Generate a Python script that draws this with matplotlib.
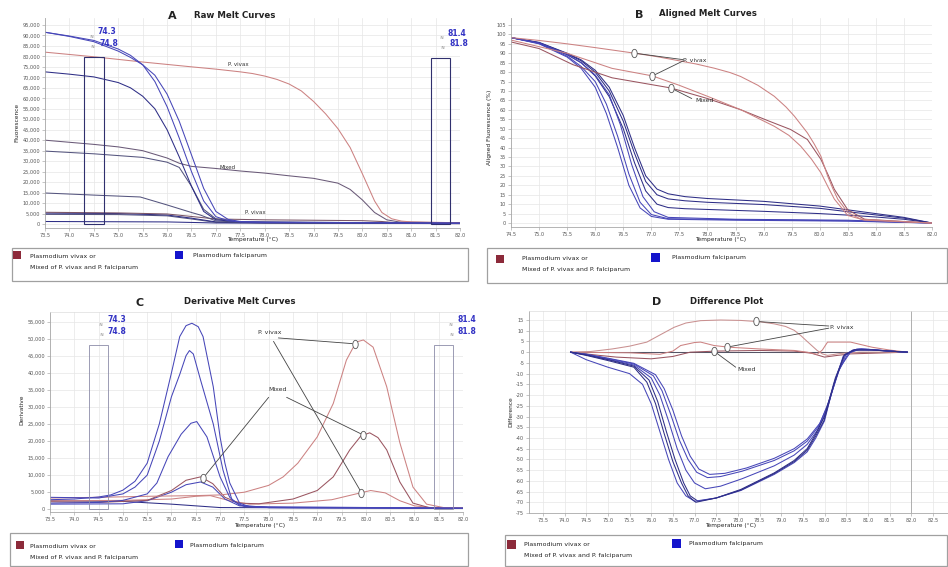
import numpy as np
import matplotlib
matplotlib.use('Agg')
import matplotlib.pyplot as plt
from matplotlib.patches import Rectangle
from matplotlib.markers import MarkerStyle
from matplotlib.transforms import Affine2D
from matplotlib.ticker import FuncFormatter, MultipleLocator

# ---------------- DATA ----------------
# Panel A: raw melt curves (temperature, fluorescence in thousands)
a_pf1 = [(73.5, 91.5), (74.0, 89.7), (74.5, 87.6), (75.0, 83.5), (75.25, 80.5), (75.5, 76.0), (75.75, 68.0),
         (76.0, 56.0), (76.25, 41.0), (76.5, 25.0), (76.75, 11.0), (77.0, 3.5), (77.25, 1.6), (77.5, 1.0), (78.0, 0.8), (82.0, 0.4)]
a_pf2 = [(73.5, 91.5), (74.0, 89.5), (74.5, 87.0), (75.0, 82.5), (75.25, 79.5), (75.5, 76.0), (75.75, 71.0),
         (76.0, 62.0), (76.25, 49.0), (76.5, 33.0), (76.75, 17.0), (77.0, 6.0), (77.25, 2.2), (77.5, 1.2), (78.0, 0.8), (82.0, 0.4)]
a_pf3 = [(73.5, 72.6), (74.0, 71.5), (74.5, 70.2), (75.0, 67.5), (75.25, 65.0), (75.5, 61.0), (75.75, 55.0),
         (76.0, 45.0), (76.25, 32.0), (76.5, 18.0), (76.75, 6.0), (77.0, 2.0), (77.5, 1.0), (82.0, 0.4)]
a_pf4 = [(73.5, 34.8), (74.5, 33.5), (75.5, 31.8), (76.0, 29.5), (76.25, 27.0), (76.5, 18.0), (76.75, 7.0),
         (77.0, 2.5), (77.5, 1.0), (82.0, 0.4)]
a_pf5 = [(73.5, 14.8), (74.5, 13.8), (75.45, 12.9), (76.0, 9.1), (76.5, 5.5), (76.68, 4.3), (77.0, 1.5), (77.5, 0.8), (82.0, 0.3)]
a_pf6 = [(73.5, 5.2), (75.0, 5.0), (76.0, 4.3), (76.5, 2.8), (77.0, 1.0), (78.0, 0.6), (82.0, 0.3)]
a_pf7 = [(73.5, 4.6), (75.0, 4.5), (76.0, 3.9), (76.5, 2.4), (77.0, 0.8), (78.0, 0.5), (82.0, 0.3)]
a_base = [(73.5, 1.2), (76.0, 1.0), (77.0, 0.5), (82.0, 0.2)]
a_pv1 = [(73.5, 82.0), (74.5, 79.8), (75.5, 77.3), (76.5, 75.0), (77.0, 73.9), (77.5, 72.6), (77.75, 71.8), (78.0, 70.6),
         (78.25, 69.0), (78.5, 66.8), (78.75, 63.5), (79.0, 58.5), (79.25, 52.5), (79.5, 45.5), (79.75, 36.5),
         (80.0, 24.0), (80.25, 11.0), (80.4, 5.5), (80.6, 2.5), (80.8, 1.4), (81.0, 1.0), (82.0, 0.6)]
a_pv2 = [(73.5, 5.6), (75.0, 5.3), (76.0, 4.8), (76.5, 3.6), (77.0, 2.4), (78.0, 2.0), (79.0, 1.8), (80.0, 1.6),
         (80.4, 1.2), (80.7, 0.6), (81.0, 0.3), (82.0, 0.2)]
a_mix = [(73.5, 40.0), (74.5, 38.0), (75.0, 36.8), (75.5, 35.0), (76.0, 31.5), (76.25, 29.0), (76.5, 27.5), (77.0, 26.5),
         (77.5, 25.3), (78.0, 24.3), (78.5, 23.0), (79.0, 21.8), (79.5, 19.5), (79.75, 16.5), (80.0, 11.5), (80.25, 5.5),
         (80.5, 2.0), (80.75, 1.0), (82.0, 0.5)]

# Panel B: aligned melt curves (temperature, %)
b_pf1 = [(74.5, 98.3), (75.0, 95.0), (75.5, 88.0), (75.75, 82.0), (76.0, 72.0), (76.2, 58.0), (76.4, 40.0), (76.6, 20.0),
         (76.8, 8.0), (77.0, 3.5), (77.3, 2.0), (78.5, 1.5), (80.5, 1.0), (82.0, 0.0)]
b_pf2 = [(74.5, 98.3), (75.0, 95.2), (75.5, 88.5), (75.75, 83.0), (76.0, 75.0), (76.2, 63.0), (76.4, 46.0), (76.6, 26.0),
         (76.8, 11.0), (77.0, 4.5), (77.3, 2.3), (78.5, 1.8), (80.5, 1.2), (82.0, 0.0)]
b_pf3 = [(74.5, 98.3), (75.0, 95.5), (75.5, 89.5), (75.75, 85.0), (76.0, 78.5), (76.25, 68.0), (76.45, 52.0), (76.65, 31.0),
         (76.85, 14.0), (77.05, 6.0), (77.3, 3.0), (78.5, 2.0), (80.5, 1.5), (82.0, 0.0)]
b_pf4 = [(74.5, 98.3), (75.0, 95.8), (75.5, 90.0), (75.75, 86.5), (76.0, 81.0), (76.25, 72.0), (76.5, 57.0), (76.7, 40.0),
         (76.9, 25.0), (77.1, 18.0), (77.3, 15.5), (77.6, 14.0), (78.0, 13.0), (79.0, 11.5), (80.0, 9.0), (80.5, 7.0),
         (81.0, 5.0), (81.5, 3.0), (82.0, 0.0)]
b_pf5 = [(74.5, 98.3), (75.0, 95.6), (75.5, 89.8), (75.75, 86.0), (76.0, 80.0), (76.25, 70.0), (76.5, 54.0), (76.7, 37.0),
         (76.9, 22.0), (77.1, 15.0), (77.3, 12.8), (77.6, 11.8), (78.0, 11.0), (79.0, 9.8), (80.0, 7.8), (80.5, 6.0),
         (81.0, 4.3), (81.5, 2.6), (82.0, 0.0)]
b_pf6 = [(74.5, 98.3), (75.0, 95.4), (75.5, 89.2), (75.75, 85.0), (76.0, 78.0), (76.25, 67.0), (76.5, 50.0), (76.7, 32.0),
         (76.9, 17.0), (77.1, 10.0), (77.3, 8.2), (77.6, 7.6), (78.0, 7.2), (79.0, 6.2), (80.0, 5.0), (80.5, 4.2),
         (81.0, 3.2), (81.5, 2.0), (82.0, 0.0)]
b_pv1 = [(74.5, 98.3), (75.0, 96.8), (75.5, 95.0), (76.0, 93.0), (76.69, 90.1), (77.1, 88.2), (77.5, 86.0), (77.8, 84.3),
         (78.12, 82.1), (78.4, 79.8), (78.59, 77.7), (78.9, 73.0), (79.19, 67.2), (79.4, 61.5), (79.55, 56.6),
         (79.78, 47.8), (79.9, 42.0), (80.02, 35.5), (80.14, 25.0), (80.23, 18.5), (80.32, 12.7), (80.5, 5.6),
         (80.73, 2.1), (81.2, 1.2), (82.0, 0.0)]
b_pv2 = [(74.5, 97.0), (75.0, 93.5), (75.5, 90.0), (76.3, 82.0), (77.02, 78.0), (77.5, 73.0), (78.0, 67.2), (78.6, 60.0),
         (79.19, 51.3), (79.45, 46.5), (79.66, 40.8), (79.85, 34.0), (80.02, 26.7), (80.15, 19.0), (80.26, 12.7),
         (80.5, 4.0), (80.8, 1.5), (82.0, 0.0)]
b_mix = [(74.5, 96.0), (75.0, 92.5), (75.6, 84.0), (76.3, 77.0), (77.35, 71.6), (78.0, 66.0), (78.59, 60.1), (79.1, 54.0),
         (79.48, 49.6), (79.78, 44.3), (80.02, 33.8), (80.15, 25.5), (80.26, 17.9), (80.5, 7.0), (80.8, 2.0), (82.0, 0.0)]

# Panel C: derivative melt curves (temperature, value in thousands)
c_pf1 = [(73.5, 2.8), (74.0, 3.0), (74.5, 3.6), (74.75, 4.2), (75.0, 5.6), (75.25, 8.2), (75.5, 13.5), (75.75, 25.0),
         (76.0, 40.0), (76.17, 50.6), (76.3, 53.8), (76.42, 54.5), (76.55, 53.5), (76.65, 50.6), (76.86, 35.9),
         (77.0, 21.2), (77.1, 13.5), (77.2, 7.7), (77.4, 1.8), (77.6, 0.8), (78.0, 0.5), (82.0, 0.3)]
c_pf2 = [(73.5, 3.5), (74.5, 3.3), (75.0, 4.5), (75.25, 6.5), (75.5, 10.0), (75.75, 20.0), (76.0, 33.0), (76.17, 39.5),
         (76.3, 45.0), (76.37, 46.5), (76.45, 45.5), (76.6, 37.8), (76.86, 25.0), (77.06, 11.5), (77.25, 2.5),
         (77.5, 0.8), (82.0, 0.3)]
c_pf3 = [(73.5, 1.8), (74.5, 2.0), (75.0, 2.6), (75.5, 4.5), (75.7, 7.7), (75.93, 15.4), (76.2, 22.0), (76.4, 25.2),
         (76.52, 25.7), (76.73, 21.2), (77.0, 9.5), (77.2, 3.5), (77.4, 1.2), (78.0, 0.5), (82.0, 0.3)]
c_pf4 = [(73.5, 1.5), (75.0, 1.6), (75.5, 2.5), (76.0, 5.0), (76.3, 7.2), (76.6, 8.0), (76.85, 6.5), (77.1, 3.0),
         (77.4, 1.0), (78.0, 0.5), (82.0, 0.3)]
c_pf5 = [(73.5, 2.5), (75.0, 2.3), (76.0, 1.5), (76.5, 1.0), (77.0, 0.5), (82.0, 0.3)]
c_pv1 = [(73.5, 3.3), (74.5, 3.5), (75.5, 3.8), (76.5, 4.0), (77.0, 4.2), (77.5, 5.0), (78.0, 7.0), (78.3, 9.5),
         (78.6, 13.5), (79.0, 21.2), (79.33, 31.0), (79.6, 43.7), (79.8, 49.0), (79.95, 49.6), (80.15, 47.5),
         (80.43, 35.9), (80.7, 19.5), (80.97, 6.5), (81.25, 1.5), (81.6, 0.5), (82.0, 0.3)]
c_pv2 = [(73.5, 2.5), (75.0, 2.6), (76.0, 3.0), (76.5, 3.8), (76.8, 4.0), (77.2, 2.5), (77.6, 1.5), (78.5, 1.8),
         (79.3, 2.8), (79.8, 4.5), (80.1, 5.5), (80.4, 4.8), (80.7, 2.5), (81.0, 1.0), (81.4, 0.4), (82.0, 0.3)]
c_mix = [(73.5, 2.2), (74.5, 2.0), (75.5, 2.6), (76.0, 5.5), (76.3, 8.5), (76.6, 9.5), (76.85, 7.5), (77.1, 3.5),
         (77.4, 1.8), (77.8, 1.6), (78.5, 3.0), (79.0, 5.5), (79.33, 9.5), (79.67, 17.4), (79.9, 21.5), (80.08, 22.4),
         (80.25, 21.0), (80.43, 17.4), (80.7, 8.0), (80.97, 1.8), (81.3, 0.5), (82.0, 0.3)]

# Panel D: difference plot (temperature, difference)
d_pf1 = [(74.14, 0), (74.5, -1.5), (75.0, -3.9), (75.6, -7.0), (75.9, -14.0), (76.1, -24.0), (76.3, -38.0), (76.5, -51.0),
         (76.7, -61.0), (76.85, -67.0), (77.03, -70.0), (77.5, -68.0), (78.07, -64.3), (78.84, -56.6), (79.3, -51.0),
         (79.6, -45.7), (79.8, -39.0), (79.99, -31.8), (80.22, -14.7), (80.45, -1.5), (80.68, 1.0), (81.1, 1.0),
         (81.5, 0.5), (81.91, 0)]
d_pf2 = [(74.14, 0), (74.5, -1.3), (75.0, -3.5), (75.6, -6.5), (75.95, -13.0), (76.15, -23.0), (76.35, -37.0),
         (76.55, -50.0), (76.75, -61.0), (76.9, -67.0), (77.08, -69.5), (77.5, -68.0), (78.07, -64.0), (78.84, -56.3),
         (79.3, -50.5), (79.6, -45.0), (79.8, -38.0), (80.0, -30.0), (80.25, -12.0), (80.47, -1.0), (80.7, 1.2),
         (81.1, 1.0), (81.5, 0.5), (81.91, 0)]
d_pf3 = [(74.14, 0), (74.5, -1.2), (75.0, -3.3), (75.6, -6.0), (76.0, -12.0), (76.2, -20.0), (76.4, -32.0), (76.6, -45.0),
         (76.8, -55.0), (77.0, -61.0), (77.25, -63.7), (77.6, -62.5), (78.1, -59.0), (78.84, -53.0), (79.3, -48.0),
         (79.6, -43.0), (79.85, -36.0), (80.05, -27.0), (80.3, -10.0), (80.5, -1.0), (80.75, 1.5), (81.1, 1.2),
         (81.5, 0.5), (81.91, 0)]
d_pf4 = [(74.14, 0), (74.5, -1.0), (75.0, -3.0), (75.6, -5.5), (76.05, -11.0), (76.25, -18.0), (76.45, -29.0),
         (76.65, -41.0), (76.85, -50.0), (77.05, -56.0), (77.3, -58.5), (77.6, -58.0), (78.1, -55.5), (78.84, -50.5),
         (79.3, -46.0), (79.6, -41.5), (79.85, -35.0), (80.05, -26.0), (80.32, -9.0), (80.55, -0.5), (80.8, 1.5),
         (81.1, 1.2), (81.5, 0.5), (81.91, 0)]
d_pf5 = [(74.14, 0), (74.5, -0.9), (75.0, -2.8), (75.6, -5.2), (76.1, -10.5), (76.3, -17.0), (76.5, -27.0), (76.7, -39.0),
         (76.9, -48.5), (77.1, -54.5), (77.35, -57.0), (77.7, -56.5), (78.2, -54.0), (78.84, -49.5), (79.3, -45.0),
         (79.6, -40.5), (79.9, -33.0), (80.1, -23.0), (80.36, -7.0), (80.6, 0.0), (80.85, 1.5), (81.1, 1.2),
         (81.5, 0.5), (81.91, 0)]
d_pf6 = [(74.14, 0), (74.5, -3.5), (75.0, -7.0), (75.5, -10.0), (75.8, -15.0), (76.0, -24.0), (76.2, -37.0), (76.4, -50.0),
         (76.6, -61.0), (76.8, -67.0), (77.0, -69.5), (77.5, -68.0), (78.07, -64.5), (78.84, -57.0), (79.3, -51.5),
         (79.6, -46.5), (79.8, -40.0), (80.0, -32.0), (80.2, -16.0), (80.43, -2.0), (80.65, 1.0), (81.1, 1.0),
         (81.5, 0.5), (81.91, 0)]
d_pv1 = [(74.14, 0), (74.6, 0.3), (75.1, 1.5), (75.5, 2.8), (75.9, 4.7), (76.2, 8.0), (76.53, 11.6), (76.8, 13.6),
         (77.14, 14.7), (77.6, 15.0), (78.07, 14.8), (78.5, 14.2), (78.84, 13.2), (79.1, 12.0), (79.3, 10.2),
         (79.45, 7.8), (79.6, 5.0), (79.83, 0.8), (79.95, -0.8), (80.07, -1.5), (80.37, -0.6), (80.8, 0.0), (81.91, 0)]
d_pv2 = [(74.14, 0), (75.5, -0.3), (76.2, -1.0), (76.5, 0.5), (76.68, 3.1), (77.0, 4.5), (77.14, 4.7), (77.45, 3.1),
         (77.8, 2.3), (78.5, 1.5), (79.3, 0.8), (79.6, 0.0), (79.83, -1.0), (79.95, 1.0), (80.07, 4.7), (80.6, 4.7),
         (81.1, 2.3), (81.5, 1.0), (81.91, 0)]
d_mix = [(74.14, 0), (74.8, -1.5), (75.2, -2.3), (76.0, -3.1), (76.5, -2.0), (76.9, 0.0), (77.5, 0.5), (78.5, 0.8),
         (79.3, 0.5), (79.7, -0.5), (80.0, -2.3), (80.3, -1.5), (80.6, -0.8), (81.91, 0)]
d_ref = [(74.14, 0), (81.91, 0)]

# regions and labels
pre_melt = (74.3, 74.7)
post_melt = (81.4, 81.8)
pre_labels = ["74.3", "74.8"]
post_labels = ["81.4", "81.8"]
legend_red = ["Plasmodium vivax or", "Mixed of P. vivax and P. falciparum"]
legend_blue = "Plasmodium falciparum"

# ---------------- FIGURE ----------------
W, H = 948, 567
fig = plt.figure(figsize=(W / 100, H / 100), dpi=100)
fig.patch.set_facecolor('white')

BLUE = '#4646b8'
NAVY = '#2e2e86'
PURP = '#55557e'
RED = '#cc8282'
BROWN = '#9a5560'
GRID = '#e6e6e6'


def ax_px(x0, y0, x1, y1):
    return fig.add_axes([x0 / W, 1 - y1 / H, (x1 - x0) / W, (y1 - y0) / H])


def ftext(x, y, s, **kw):
    kw.setdefault('fontsize', 4.5)
    kw.setdefault('va', 'center')
    kw.setdefault('color', '#222222')
    fig.text(x / W, 1 - y / H, s, **kw)


def style(ax, xlim, ylim, xstep, ystep, yfmt, top=False):
    ax.set_xlim(*xlim)
    ax.set_ylim(*ylim)
    ax.xaxis.set_major_locator(MultipleLocator(xstep))
    ax.yaxis.set_major_locator(MultipleLocator(ystep))
    ax.xaxis.set_major_formatter(FuncFormatter(lambda v, p: f"{v:.1f}"))
    ax.yaxis.set_major_formatter(FuncFormatter(yfmt))
    ax.grid(True, color=GRID, lw=0.5)
    ax.set_axisbelow(True)
    ax.tick_params(labelsize=3.6, length=2, width=0.4, color='#999999', labelcolor='#555555', pad=1.5)
    for s in ['left', 'bottom']:
        ax.spines[s].set_color('#a8a8a8')
        ax.spines[s].set_linewidth(0.6)
    ax.spines['right'].set_visible(False)
    ax.spines['top'].set_visible(top)
    if top:
        ax.spines['top'].set_color('#dddddd')
        ax.spines['top'].set_linewidth(0.5)


def draw(ax, pts, color, scale=1.0, lw=0.75):
    t, v = np.array(pts, dtype=float).T
    ax.plot(t, v * scale, color=color, lw=lw, solid_joinstyle='round')


def on_curve(pts, t, scale=1.0):
    tt, vv = np.array(pts, dtype=float).T
    return t, float(np.interp(t, tt, vv)) * scale


ELL = MarkerStyle('o', transform=Affine2D().scale(0.65, 1.0))


def callout(ax, text_xy, target, ms=6):
    ax.annotate('', xy=target, xytext=text_xy,
                arrowprops=dict(arrowstyle='-', lw=0.6, color='#444444', shrinkA=0, shrinkB=2))
    ax.plot([target[0]], [target[1]], marker=ELL, ms=ms, mfc='white', mec='#555555', mew=0.6, zorder=5)


comma = lambda v, p: f"{int(round(v)):,}"
plain = lambda v, p: f"{int(round(v))}"

# ---------- Panel A ----------
axA = ax_px(45, 18, 460, 228)
style(axA, (73.5, 82.0), (-1900, 98300), 0.5, 5000, comma)
K = 1000.0
for pts, c in [(a_base, NAVY), (a_pf7, PURP), (a_pf6, NAVY), (a_pv2, '#7a5566'), (a_pf5, PURP), (a_pf4, PURP),
               (a_mix, '#6a5a78'), (a_pv1, RED), (a_pf3, NAVY), (a_pf2, BLUE), (a_pf1, BLUE)]:
    draw(axA, pts, c, K)
for (x0, x1), h in [(pre_melt, 79700), (post_melt, 79200)]:
    axA.add_patch(Rectangle((x0, 0), x1 - x0, h, fill=False, ec='#30306e', lw=0.8, zorder=4))
axA.text(77.45, 75900, "P. vivax", fontsize=4, ha='center', va='center', color='#333333')
axA.text(77.23, 27200, "Mixed", fontsize=4, ha='center', va='center', color='#333333')
axA.text(77.8, 5700, "P. vivax", fontsize=4, ha='center', va='center', color='#333333')

# ---------- Panel B ----------
axB = ax_px(511, 18, 932, 227)
style(axB, (74.5, 82.0), (-2.1, 108.7), 0.5, 5, plain)
for pts, c in [(b_pf6, NAVY), (b_pf5, NAVY), (b_pf4, NAVY), (b_pf3, BLUE), (b_pf2, BLUE), (b_pf1, BLUE),
               (b_mix, BROWN), (b_pv2, RED), (b_pv1, RED)]:
    draw(axB, pts, c)
axB.text(77.57, 86.4, "P. vivax", fontsize=4.5, ha='left', va='center', color='#333333')
axB.text(77.78, 65.2, "Mixed", fontsize=4.5, ha='left', va='center', color='#333333')
callout(axB, (77.57, 86.6), on_curve(b_pv1, 76.69))
callout(axB, (77.57, 86.0), on_curve(b_pv2, 77.02))
callout(axB, (77.72, 66.0), on_curve(b_mix, 77.35))

# ---------- Panel C ----------
axC = ax_px(50, 312, 463, 512)
style(axC, (73.5, 82.0), (-800, 57800), 0.5, 5000, comma, top=True)
for pts, c in [(c_pf5, NAVY), (c_pv2, RED), (c_pf4, BLUE), (c_mix, BROWN), (c_pv1, RED),
               (c_pf3, BLUE), (c_pf2, BLUE), (c_pf1, BLUE)]:
    draw(axC, pts, c, K)
for (x0, x1) in [pre_melt, post_melt]:
    axC.add_patch(Rectangle((x0, 0), x1 - x0, 48200, fill=False, ec='#8c8ca8', lw=0.6, zorder=4))
axC.text(77.78, 51700, "P. vivax", fontsize=4.5, ha='left', va='center', color='#333333')
axC.text(78.0, 35000, "Mixed", fontsize=4.5, ha='left', va='center', color='#333333')
callout(axC, (78.2, 50200), on_curve(c_pv1, 79.78, K))
callout(axC, (78.1, 49200), on_curve(c_pv2, 79.91, K))
callout(axC, (78.0, 32800), on_curve(c_mix, 76.65, K))
callout(axC, (78.37, 32800), on_curve(c_mix, 79.95, K))

# ---------- Panel D ----------
axD = ax_px(529, 311, 948, 513)
style(axD, (73.18, 82.85), (-75, 19.2), 0.5, 5, plain, top=True)
axD.axvline(82.0, color='#b0b0b0', lw=0.7)
for pts, c in [(d_ref, '#555566'), (d_mix, BROWN), (d_pv2, RED), (d_pv1, '#c99090'),
               (d_pf5, BLUE), (d_pf4, BLUE), (d_pf3, BLUE), (d_pf2, NAVY), (d_pf6, BLUE), (d_pf1, NAVY)]:
    draw(axD, pts, c)
axD.text(80.13, 11.7, "P. vivax", fontsize=4.5, ha='left', va='center', color='#333333')
axD.text(77.98, -8.2, "Mixed", fontsize=4.5, ha='left', va='center', color='#333333')
callout(axD, (80.1, 12.2), on_curve(d_pv1, 78.41))
callout(axD, (80.1, 11.2), on_curve(d_pv2, 77.76))
callout(axD, (77.95, -7.0), on_curve(d_mix, 77.45))

# ---------- titles, axis labels ----------
for (lx, ly, letter, tx, title) in [(172, 16, "A", 235, "Raw Melt Curves"),
                                    (639, 15, "B", 708, "Aligned Melt Curves"),
                                    (140, 303, "C", 240, "Derivative Melt Curves"),
                                    (657, 302, "D", 727, "Difference Plot")]:
    ftext(lx, ly, letter, fontsize=8, fontweight='bold', ha='center')
    ftext(tx, ly - 1, title, fontsize=6.2, fontweight='bold', ha='center')

for (x, y) in [(253, 239), (721, 239), (260, 525), (731, 525)]:
    ftext(x, y, "Temperature (°C)", fontsize=4.2, ha='center')
for (x, y, s) in [(17, 122, "Fluorescence"), (489, 127, "Aligned Fluorescence (%)"),
                  (22, 410, "Derivative"), (511, 412, "Difference")]:
    ftext(x, y, s, fontsize=4.2, ha='center', rotation=90)

# region value labels
LBL = '#3434c4'
for (x, y0) in [(98, 32), (107, 320)]:
    ftext(x, y0, pre_labels[0], fontsize=5.5, fontweight='bold', color=LBL, ha='left')
    ftext(x + 1, y0 + 11, pre_labels[1], fontsize=5.5, fontweight='bold', color=LBL, ha='left')
    ftext(x - 9, y0 + 5, "≈", fontsize=3.5, color='#777777', ha='left')
    ftext(x - 8, y0 + 15, "≈", fontsize=3.5, color='#777777', ha='left')
for (x, y0) in [(448, 33), (457, 320)]:
    ftext(x, y0, post_labels[0], fontsize=5.5, fontweight='bold', color=LBL, ha='left')
    ftext(x + 1, y0 + 11, post_labels[1], fontsize=5.5, fontweight='bold', color=LBL, ha='left')
    ftext(x - 9, y0 + 5, "≈", fontsize=3.5, color='#777777', ha='left')
    ftext(x - 8, y0 + 15, "≈", fontsize=3.5, color='#777777', ha='left')

# ---------- legend boxes ----------
def legend_box(x0, y0, x1, y1, rsq, rtxt, bsq, btxt):
    fig.add_artist(Rectangle((x0 / W, 1 - y1 / H), (x1 - x0) / W, (y1 - y0) / H, transform=fig.transFigure,
                             fill=False, ec='#a0a0a0', lw=0.9))
    for (sx, sy, s), col in [(rsq, '#8c2a3a'), (bsq, '#1414cc')]:
        fig.add_artist(Rectangle((sx / W, 1 - (sy + s) / H), s / W, s / H, transform=fig.transFigure,
                                 fc=col, ec=col, lw=0))
    ftext(rtxt[0], rtxt[1], legend_red[0], fontsize=4.5)
    ftext(rtxt[0], rtxt[1] + 11, legend_red[1], fontsize=4.5)
    ftext(btxt[0], btxt[1], legend_blue, fontsize=4.5)


legend_box(12, 248, 468, 281, (13, 251, 8), (30, 256), (175, 251, 8), (193, 255))
legend_box(487, 248, 947, 283, (496, 255, 8), (522, 259), (651, 253, 9), (672, 258))
legend_box(10, 533, 468, 566, (16, 541, 8), (30, 546), (175, 540, 8), (190, 545))
legend_box(505, 535, 947, 566, (507, 540, 9), (524, 545), (672, 539, 9), (689, 544))

fig.savefig('out.png', dpi=100)
